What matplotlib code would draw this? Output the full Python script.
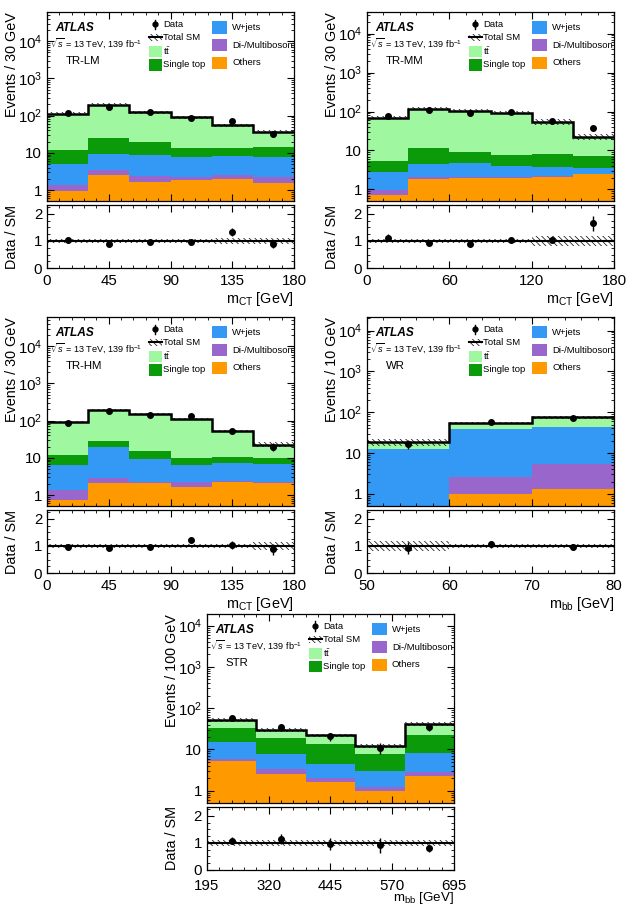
import numpy as np
import matplotlib
matplotlib.use('Agg')
import matplotlib.pyplot as plt
from matplotlib.patches import Rectangle
from matplotlib.ticker import FixedLocator, MultipleLocator, LogLocator, NullFormatter

plt.rcParams['font.family'] = ['Liberation Sans', 'DejaVu Sans']
plt.rcParams['mathtext.fontset'] = 'custom'
plt.rcParams['mathtext.rm'] = 'Liberation Sans'
plt.rcParams['mathtext.it'] = 'Liberation Sans:italic'
plt.rcParams['mathtext.bf'] = 'Liberation Sans:bold'
plt.rcParams['hatch.linewidth'] = 0.5

# ---- TR-LM ----
lm_edges = [0, 30, 60, 90, 120, 150, 180]
lm_others = [0.96, 2.46, 1.65, 1.82, 2.0, 1.58]
lm_diboson = [0.39, 1.07, 0.71, 0.41, 0.5, 0.69]
lm_wjets = [3.7, 5.7, 6.3, 5.7, 5.7, 5.6]
lm_singletop = [6.6, 15.8, 10.7, 5.6, 5.6, 6.4]
lm_ttbar = [101, 172, 106, 76, 41, 23]
lm_data = [116, 175, 122, 87, 73, 33]
lm_unc = [0.09, 0.09, 0.09, 0.09, 0.1, 0.11]

# ---- TR-MM ----
mm_edges = [0, 30, 60, 90, 120, 150, 180]
mm_others = [0.73, 1.85, 1.96, 2.0, 2.1, 2.46]
mm_diboson = [0.25, 0.3, 0.11, 0.1, 0.1, 0.1]
mm_wjets = [1.9, 2.25, 2.8, 1.9, 1.56, 1.0]
mm_singletop = [2.6, 7.0, 4.3, 3.6, 4.3, 3.85]
mm_ttbar = [63.5, 108, 95, 85, 47, 15]
mm_data = [77, 112, 94, 95, 58, 37]
mm_unc = [0.09, 0.09, 0.09, 0.09, 0.19, 0.19]

# ---- TR-HM ----
hm_edges = [0, 30, 60, 90, 120, 150, 180]
hm_others = [0.74, 2.15, 2.15, 1.69, 2.29, 2.07]
hm_diboson = [0.61, 0.75, 0.05, 0.55, 0.09, 0.13]
hm_wjets = [5.15, 17.0, 7.2, 4.26, 4.8, 4.7]
hm_singletop = [5.5, 8.7, 5.9, 3.7, 3.6, 2.9]
hm_ttbar = [78, 166, 135, 100, 41, 13]
hm_data = [87, 183, 144, 134, 54, 20]
hm_unc = [0.06, 0.06, 0.06, 0.06, 0.07, 0.15]

# ---- WR ----
wr_edges = [50, 60, 70, 80]
wr_others = [0.0, 1.0, 1.35]
wr_diboson = [0.0, 1.6, 3.95]
wr_wjets = [12.3, 35.4, 38.7]
wr_singletop = [0.05, 0.5, 0.5]
wr_ttbar = [6.1, 15.5, 30.5]
wr_data = [17, 57, 72]
wr_unc = [0.18, 0.07, 0.07]

# ---- STR ----
str_edges = [195, 295, 395, 495, 595, 695]
str_others = [5.25, 2.6, 1.58, 1.0, 2.2]
str_diboson = [0.5, 0.7, 0.4, 0.2, 0.55]
str_wjets = [9.55, 4.6, 2.4, 1.8, 5.55]
str_singletop = [17.7, 11.1, 8.8, 4.6, 13.7]
str_ttbar = [19.5, 11.0, 8.8, 4.4, 20.0]
str_data = [57, 34, 21, 11, 34]
str_unc = [0.1, 0.1, 0.1, 0.1, 0.1]

colors = {'others': '#ff9900', 'diboson': '#9966cc', 'wjets': '#3399f5',
          'singletop': '#0a9a0a', 'ttbar': '#9ff79f'}
HATCH = '\\\\\\\\\\\\'
FS = 10.8   # tick labels
LS = 10.4   # axis titles


def draw_legend(ax, region):
    t = ax.transAxes
    ax.text(0.033, 0.915, 'ATLAS', fontsize=8.6, fontweight='bold', style='italic',
            transform=t, va='center')
    ax.text(0.012, 0.835, r'$\sqrt{s}$ = 13 TeV, 139 fb$^{-1}$', fontsize=6.6,
            transform=t, va='center')
    ax.text(0.075, 0.74, region, fontsize=8.2, transform=t, va='center')
    # left column
    ax.plot([0.437, 0.437], [0.91, 0.962], color='k', lw=1, transform=t)
    ax.plot([0.437], [0.936], 'o', color='k', ms=3.5, transform=t)
    ax.text(0.47, 0.936, 'Data', fontsize=6.8, transform=t, va='center')
    ax.add_patch(Rectangle((0.413, 0.847), 0.053, 0.04, transform=t,
                           facecolor='none', edgecolor='k', lw=0, hatch=HATCH))
    ax.plot([0.413, 0.466], [0.867, 0.867], color='k', lw=1.5, transform=t)
    ax.text(0.47, 0.867, 'Total SM', fontsize=6.8, transform=t, va='center')
    ax.add_patch(Rectangle((0.413, 0.762), 0.053, 0.0585, transform=t,
                           facecolor=colors['ttbar'], lw=0))
    ax.text(0.47, 0.796, r't$\bar{\mathrm{t}}$', fontsize=6.8, transform=t, va='center')
    ax.add_patch(Rectangle((0.413, 0.692), 0.053, 0.0585, transform=t,
                           facecolor=colors['singletop'], lw=0))
    ax.text(0.47, 0.722, 'Single top', fontsize=6.8, transform=t, va='center')
    # right column
    for yc, key, lab in [(0.92, 'wjets', 'W+jets'), (0.826, 'diboson', 'Di-/Multiboson'),
                         (0.732, 'others', 'Others')]:
        ax.add_patch(Rectangle((0.668, yc - 0.032), 0.061, 0.064, transform=t,
                               facecolor=colors[key], lw=0))
        ax.text(0.749, yc, lab, fontsize=6.8, transform=t, va='center')


def draw_panel(fig, left, bottom, edges, others, diboson, wjets, singletop, ttbar,
               data, unc, ytop, ylabel, xlabel, major, minor, region, xpad=1, xls=LS,
               tpad=4.5):
    w = 0.394
    ax = fig.add_axes([left, bottom + 0.0736, w, 0.208])
    axr = fig.add_axes([left, bottom, w, 0.0694])
    edges = np.array(edges, dtype=float)
    comps = [('others', others), ('diboson', diboson), ('wjets', wjets),
             ('singletop', singletop), ('ttbar', ttbar)]
    base = np.full(len(edges) - 1, 1e-3)
    for key, vals in comps:
        top = base + np.array(vals)
        ax.stairs(top, edges, baseline=base, fill=True, color=colors[key], lw=0)
        base = top
    total = base
    unc = np.array(unc)
    data = np.array(data, dtype=float)
    ax.stairs(total * (1 + unc), edges, baseline=total * (1 - unc), fill=True,
              facecolor='none', edgecolor='k', lw=0, hatch=HATCH)
    ax.stairs(total, edges, baseline=None, color='k', lw=1.8)
    centers = 0.5 * (edges[1:] + edges[:-1])
    ax.errorbar(centers, data, yerr=np.sqrt(data), fmt='o', color='k', ms=4,
                elinewidth=1, capsize=0)
    ax.set_yscale('log')
    ax.set_ylim(0.5, ytop)
    ax.set_xlim(edges[0], edges[-1])
    ax.yaxis.set_major_locator(FixedLocator([1, 10, 100, 1000, 10000]))
    ax.set_yticklabels(['1', '10', '$10^{2}$', '$10^{3}$', '$10^{4}$'])
    ax.yaxis.set_minor_locator(LogLocator(subs=np.arange(2, 10), numticks=20))
    ax.yaxis.set_minor_formatter(NullFormatter())
    xmaj = np.arange(edges[0], edges[-1] + 0.5 * major, major)
    xmin = np.arange(edges[0], edges[-1] + 0.5 * minor, minor)
    ax.xaxis.set_major_locator(FixedLocator(xmaj))
    ax.xaxis.set_minor_locator(FixedLocator(xmin))
    ax.set_xticklabels([])
    ax.set_ylabel(ylabel, fontsize=LS, loc='top')
    ax.yaxis.set_label_coords(-0.115, 1.0)

    # ratio
    axr.stairs(1 + unc, edges, baseline=1 - unc, fill=True, facecolor='none',
               edgecolor='k', lw=0, hatch=HATCH)
    axr.axhline(1, color='k', lw=1.5)
    axr.errorbar(centers, data / total, yerr=np.sqrt(data) / total, fmt='o', color='k',
                 ms=4, elinewidth=1, capsize=0)
    axr.set_ylim(0, 2.33)
    axr.set_xlim(edges[0], edges[-1])
    axr.set_yticks([0, 1, 2])
    axr.yaxis.set_minor_locator(MultipleLocator(0.25))
    axr.xaxis.set_major_locator(FixedLocator(xmaj))
    axr.xaxis.set_minor_locator(FixedLocator(xmin))
    axr.set_xticklabels(['%d' % v for v in xmaj])
    axr.set_ylabel('Data / SM', fontsize=LS)
    axr.yaxis.set_label_coords(-0.115, 0.5)
    axr.set_xlabel(xlabel, fontsize=xls, loc='right', labelpad=xpad)

    for a in (ax, axr):
        a.tick_params(which='both', direction='in', top=True, right=True, labelsize=FS)
        a.tick_params(which='major', length=5, width=0.8)
        a.tick_params(which='minor', length=2.5, width=0.6)
        for s in a.spines.values():
            s.set_linewidth(0.9)
    axr.tick_params(axis='x', which='major', pad=tpad)
    draw_legend(ax, region)


fig = plt.figure(figsize=(6.27, 9.08), dpi=100)
mct = r'm$_{\mathrm{CT}}$ [GeV]'
mbb = r'm$_{\mathrm{bb}}$ [GeV]'
draw_panel(fig, 0.075, 0.7048, lm_edges, lm_others, lm_diboson, lm_wjets, lm_singletop,
           lm_ttbar, lm_data, lm_unc, 6e4, 'Events / 30 GeV', mct, 45, 9, 'TR-LM')
draw_panel(fig, 0.5853, 0.7048, mm_edges, mm_others, mm_diboson, mm_wjets, mm_singletop,
           mm_ttbar, mm_data, mm_unc, 3.5e4, 'Events / 30 GeV', mct, 60, 12, 'TR-MM')
draw_panel(fig, 0.075, 0.3689, hm_edges, hm_others, hm_diboson, hm_wjets, hm_singletop,
           hm_ttbar, hm_data, hm_unc, 6e4, 'Events / 30 GeV', mct, 45, 9, 'TR-HM')
draw_panel(fig, 0.5853, 0.3689, wr_edges, wr_others, wr_diboson, wr_wjets, wr_singletop,
           wr_ttbar, wr_data, wr_unc, 2.1e4, 'Events / 10 GeV', mbb, 10, 2, 'WR')
draw_panel(fig, 0.330, 0.042, str_edges, str_others, str_diboson, str_wjets, str_singletop,
           str_ttbar, str_data, str_unc, 1.9e4, 'Events / 100 GeV', mbb, 125, 25, 'STR',
           xpad=-2, xls=9.6, tpad=6.5)

fig.savefig('out.png', dpi=100)
